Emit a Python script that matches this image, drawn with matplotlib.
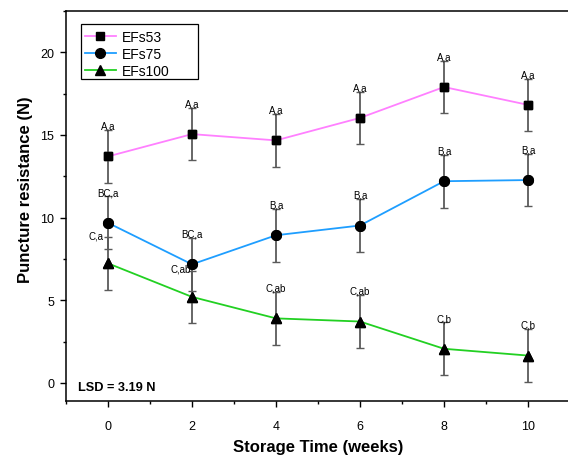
import matplotlib
matplotlib.use("Agg")
import matplotlib.pyplot as plt
from matplotlib.patches import Rectangle
from matplotlib.ticker import MultipleLocator

plt.rcParams['font.family'] = ['Liberation Sans', 'DejaVu Sans']

# storage time (weeks)
weeks = [0, 2, 4, 6, 8, 10]

# puncture resistance (N)
efs53 = [13.7, 15.05, 14.67, 16.03, 17.9, 16.82]
efs75 = [9.68, 7.17, 8.93, 9.52, 12.2, 12.27]
efs100 = [7.23, 5.2, 3.9, 3.71, 2.06, 1.65]

# error bars = LSD / 2
lsd = 3.19
err = lsd / 2

lab53 = ["A,a", "A,a", "A,a", "A,a", "A,a", "A,a"]
lab75 = ["BC,a", "BC,a", "B,a", "B,a", "B,a", "B,a"]
lab100 = ["C,a", "C,ab", "C,ab", "C,ab", "C,b", "C,b"]

series = [
    ("EFs53", efs53, lab53, "#FF80FF", "s", 6.3),
    ("EFs75", efs75, lab75, "#1E9EFF", "o", 7),
    ("EFs100", efs100, lab100, "#22D022", "^", 7.5),
]

fig = plt.figure(figsize=(5.68, 4.56), dpi=100)
ax = fig.add_axes([66 / 568, 1 - 402 / 456, (570 - 66) / 568, (402 - 12) / 456])

for name, vals, labs, col, mk, ms in series:
    ax.plot(weeks, vals, color=col, lw=1.3, marker=mk, ms=ms,
            mfc="black", mec="black", zorder=2, label=name)
    ax.errorbar(weeks, vals, yerr=err, fmt="none", ecolor="#5a5a5a",
                elinewidth=1.3, capsize=2.6, capthick=1.0, zorder=3)
    ax.plot(weeks, vals, ls="none", marker=mk, ms=ms,
            mfc="black", mec="black", zorder=4)
    for i, (xv, yv, t) in enumerate(zip(weeks, vals, labs)):
        if name == "EFs100" and i < 2:
            # these two sit left of the bar
            ax.annotate(t, (xv, yv + err), xytext=(-3 if i == 0 else -1, -1),
                        textcoords="offset points", ha="right", va="baseline",
                        fontsize=7)
        else:
            ax.annotate(t, (xv, yv + err), xytext=(0, 1),
                        textcoords="offset points", ha="center", va="baseline",
                        fontsize=7)

ax.text(-0.72, -0.25, "LSD = 3.19 N", fontsize=9.2, fontweight="bold",
        va="center", ha="left")

ax.set_xlim(-1, 11)
ax.set_ylim(-1.1, 22.5)
ax.set_xticks(weeks)
ax.xaxis.set_minor_locator(MultipleLocator(1))
ax.set_yticks([0, 5, 10, 15, 20])
ax.yaxis.set_minor_locator(MultipleLocator(2.5))
ax.tick_params(which="major", direction="out", length=4.5, width=1.0,
               labelsize=9)
ax.tick_params(axis="x", which="major", pad=9)
ax.tick_params(axis="y", which="major", pad=4)
ax.tick_params(which="minor", direction="out", length=2.5, width=1.0)
for s in ax.spines.values():
    s.set_linewidth(1.1)

ax.set_xlabel("Storage Time (weeks)", fontsize=12, fontweight="bold")
ax.set_ylabel("Puncture resistance (N)", fontsize=12, fontweight="bold")
ax.xaxis.set_label_coords(0.5, -0.098)
ax.yaxis.set_label_coords(-0.066, 0.544)

# legend without its own frame, the box is drawn wider like the original
leg = ax.legend(loc="upper left", bbox_to_anchor=(0.0298, 0.962), fontsize=10,
                frameon=False, borderpad=0.3, labelspacing=0.22,
                handlelength=2.2, handletextpad=0.45, borderaxespad=0)
ax.add_patch(Rectangle((0.0298, 0.8256), 0.2322, 0.1411, transform=ax.transAxes,
                       fill=False, ec="black", lw=0.9, zorder=5))

fig.savefig("out.png", dpi=100)
